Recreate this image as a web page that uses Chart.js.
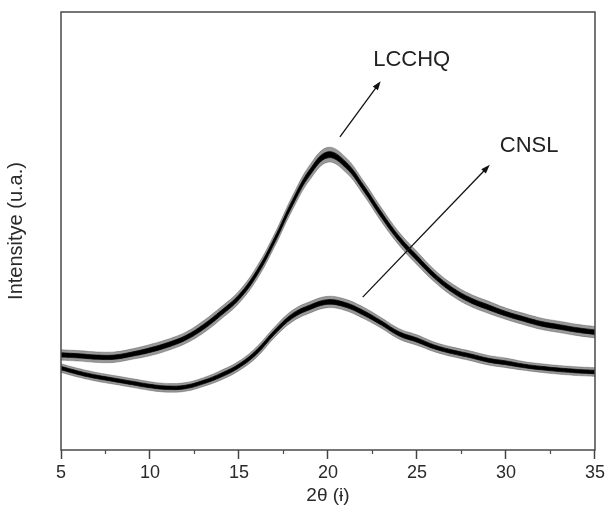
<!DOCTYPE html>
<html>
<head>
<meta charset="utf-8">
<script src="https://cdn.jsdelivr.net/npm/chart.js@4/dist/chart.umd.min.js"></script>
<style>
  html, body { margin: 0; padding: 0; background: #fff; }
  #wrap { width: 608px; height: 511px; }
</style>
</head>
<body>
<div id="wrap"><canvas id="xrdChart"></canvas></div>
<script>
/* ==========================================
   XRD DATA
   ========================================== */

const angles = [5, 6, 7, 8, 9, 10, 11, 12, 13, 14, 15, 16, 17, 18, 19, 20,
                21, 22, 23, 24, 25, 26, 27, 28, 29, 30, 31, 32, 33, 34, 35];

// LCCHQ, middle of the noisy trace
const lcchq = [21.7, 21.5, 21.2, 21.2, 21.9, 22.8, 24.0, 25.6, 28.1, 31.3, 34.9,
               40.4, 47.9, 56.4, 63.5, 67.4, 65.1, 59.8, 53.7, 48.2, 43.8,
               39.7, 36.5, 34.2, 32.6, 31.1, 29.9, 28.8, 28.1, 27.4, 26.9];

// LCCHQ, half height of the noise spikes
const lcchqNoise = [1.2, 1.2, 1.2, 1.2, 1.2, 1.3, 1.3, 1.3, 1.4, 1.4, 1.4,
                    1.5, 1.5, 1.6, 1.7, 1.7, 1.7, 1.6, 1.6, 1.5, 1.5,
                    1.4, 1.4, 1.4, 1.4, 1.3, 1.3, 1.3, 1.3, 1.3, 1.3];

// CNSL, middle of the noisy trace
const cnsl = [18.7, 17.6, 16.7, 16.0, 15.3, 14.6, 14.2, 14.4, 15.5, 17.1, 19.2,
              22.4, 26.9, 30.6, 32.6, 33.8, 33.1, 31.3, 29.0, 26.5, 25.1,
              23.5, 22.4, 21.5, 20.5, 19.9, 19.2, 18.7, 18.3, 18.0, 17.8];

// CNSL, half height of the noise spikes
const cnslNoise = [1.0, 1.0, 1.0, 1.0, 1.0, 1.0, 1.0, 1.0, 1.0, 1.1, 1.1,
                   1.2, 1.2, 1.3, 1.3, 1.3, 1.3, 1.3, 1.2, 1.2, 1.2,
                   1.1, 1.1, 1.1, 1.1, 1.1, 1.0, 1.0, 1.0, 1.0, 1.0];

const xTicks = [5, 10, 15, 20, 25, 30, 35];
const xMinorTicks = [7.5, 12.5, 17.5, 22.5, 27.5, 32.5];

// labels with arrows: [text, label x, label y, arrow from x, from y, to x, to y]
const callouts = [
  ["LCCHQ", 24.7, 89.0, 20.67, 71.5, 22.96, 84.2],
  ["CNSL", 31.3, 69.4, 21.95, 34.9, 29.09, 65.1]
];


/* ==========================================
   HELPERS
   ========================================== */

function band(center, noise, k) {
  return angles.map((a, i) => ({ x: a, y: center[i] + k * noise[i] }));
}

function traceSets(center, noise) {
  const base = {
    type: "line",
    pointRadius: 0,
    tension: 0.4,
    borderWidth: 0.8
  };
  return [
    Object.assign({}, base, {
      data: band(center, noise, 1.0),
      borderColor: "rgba(0,0,0,0.3)",
      fill: false
    }),
    Object.assign({}, base, {
      data: band(center, noise, -1.0),
      borderColor: "rgba(0,0,0,0.3)",
      backgroundColor: "rgba(0,0,0,0.4)",
      fill: "-1"
    }),
    Object.assign({}, base, {
      data: band(center, noise, 0.4),
      borderColor: "rgba(0,0,0,0.9)",
      fill: false
    }),
    Object.assign({}, base, {
      data: band(center, noise, -0.4),
      borderColor: "rgba(0,0,0,0.9)",
      backgroundColor: "#000",
      fill: "-1"
    })
  ];
}


/* ==========================================
   FRAME, MINOR TICKS, CALLOUTS
   ========================================== */

const decorations = {
  id: "decorations",
  afterDraw(chart) {
    const ctx = chart.ctx;
    const a = chart.chartArea;
    const xs = chart.scales.x;
    const ys = chart.scales.y;

    ctx.save();

    // frame
    ctx.strokeStyle = "#4a4a4a";
    ctx.lineWidth = 1.5;
    ctx.strokeRect(a.left, a.top, a.right - a.left, a.bottom - a.top);

    // minor ticks
    ctx.lineWidth = 1.2;
    xMinorTicks.forEach(v => {
      const px = xs.getPixelForValue(v);
      ctx.beginPath();
      ctx.moveTo(px, a.bottom);
      ctx.lineTo(px, a.bottom + 4);
      ctx.stroke();
    });

    // callouts
    ctx.fillStyle = "#222";
    ctx.strokeStyle = "#111";
    ctx.font = "22px 'Liberation Sans', Arial, sans-serif";
    ctx.textAlign = "center";
    ctx.textBaseline = "middle";
    callouts.forEach(c => {
      ctx.fillText(c[0], xs.getPixelForValue(c[1]), ys.getPixelForValue(c[2]));

      const x0 = xs.getPixelForValue(c[3]), y0 = ys.getPixelForValue(c[4]);
      const x1 = xs.getPixelForValue(c[5]), y1 = ys.getPixelForValue(c[6]);
      const ang = Math.atan2(y1 - y0, x1 - x0);
      const head = 9, half = 3.2;

      ctx.lineWidth = 1.3;
      ctx.beginPath();
      ctx.moveTo(x0, y0);
      ctx.lineTo(x1 - Math.cos(ang) * head * 0.8, y1 - Math.sin(ang) * head * 0.8);
      ctx.stroke();

      ctx.beginPath();
      ctx.moveTo(x1, y1);
      ctx.lineTo(x1 - Math.cos(ang) * head - Math.sin(ang) * half,
                 y1 - Math.sin(ang) * head + Math.cos(ang) * half);
      ctx.lineTo(x1 - Math.cos(ang) * head + Math.sin(ang) * half,
                 y1 - Math.sin(ang) * head - Math.cos(ang) * half);
      ctx.closePath();
      ctx.fillStyle = "#111";
      ctx.fill();
      ctx.fillStyle = "#222";
    });

    ctx.restore();
  }
};


/* ==========================================
   CHART
   ========================================== */

Chart.defaults.font.family = "'Liberation Sans', Arial, sans-serif";
Chart.defaults.color = "#222";

new Chart(
  document.getElementById("xrdChart"),
  {
    type: "line",
    data: {
      datasets: [].concat(traceSets(lcchq, lcchqNoise), traceSets(cnsl, cnslNoise))
    },
    options: {
      responsive: true,
      maintainAspectRatio: false,
      animation: false,
      layout: {
        padding: { top: 12, right: 9, bottom: 0, left: 0 }
      },
      plugins: {
        legend: { display: false },
        tooltip: { enabled: false }
      },
      scales: {
        x: {
          type: "linear",
          min: 5,
          max: 35,
          afterFit: axis => { axis.height = 61; },
          afterBuildTicks: axis => {
            axis.ticks = xTicks.map(v => ({ value: v }));
          },
          border: { display: false },
          grid: {
            drawOnChartArea: false,
            drawTicks: true,
            tickLength: 9,
            tickWidth: 1.5,
            tickColor: "#444"
          },
          ticks: {
            padding: 3,
            maxRotation: 0,
            font: { size: 18 },
            color: "#2a2a2a"
          },
          title: {
            display: true,
            text: "2θ (ɨ)",
            font: { size: 19 },
            color: "#2a2a2a"
          }
        },
        y: {
          min: 0,
          max: 100,
          afterFit: axis => { axis.width = 61; },
          border: { display: false },
          grid: { display: false },
          ticks: { display: false },
          title: {
            display: true,
            text: "Intensitye (u.a.)",
            font: { size: 20 },
            color: "#2a2a2a"
          }
        }
      }
    },
    plugins: [decorations]
  }
);
</script>
</body>
</html>
